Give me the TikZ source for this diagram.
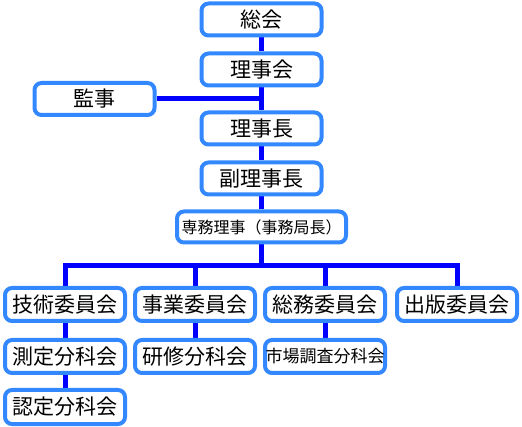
\documentclass[tikz,border=0pt]{standalone}
\usepackage{fontspec}
\setmainfont{Noto Sans CJK JP}
\usetikzlibrary{positioning,calc,backgrounds}
\definecolor{frame}{HTML}{3388FF}
\definecolor{wire}{HTML}{0000FF}

\begin{document}
\begin{tikzpicture}[
    x=1pt, y=1pt,
    node distance=14pt and 6pt,
    unit/.style={rectangle,draw=frame,fill=white,line width=4pt,rounded corners=7pt,
      minimum width=120pt,minimum height=32pt,inner sep=0pt,
      font=\fontsize{21}{21}\selectfont},
    small/.style={font=\fontsize{16}{16}\selectfont},
    link/.style={draw=wire,line width=5pt}
  ]
    \useasboundingbox (0,0) rectangle (522,-427);

    % main column
    \node[unit] (soukai)   at (261.5,-19.5)        {総会};
    \node[unit] (rijikai)  [below=of soukai]       {理事会};
    \node[unit] (rijicho)  [below=23pt of rijikai] {理事長};
    \node[unit] (fukuriji) [below=of rijicho]      {副理事長};
    \node[unit,small,minimum width=169pt,minimum height=31pt] (senmu)
      [below=13pt of fukuriji] {専務理事（事務局長）};
    \coordinate (mid) at ($(rijikai.south)!0.5!(rijicho.north)$);
    \node[unit] (kanji)    [left=105pt of mid]     {監事};

    % committees
    \node[unit,minimum height=33pt] (gijutsu) at (65,-304.5) {技術委員会};
    \node[unit,minimum height=33pt] (jigyo)   [right=of gijutsu]    {事業委員会};
    \node[unit,minimum height=33pt] (soumu)   [right=of jigyo]      {総務委員会};
    \node[unit,minimum height=33pt] (shuppan) [right=8pt of soumu]  {出版委員会};

    % subcommittees
    \node[unit,minimum height=33pt] (sokutei) [below=15pt of gijutsu] {測定分科会};
    \node[unit,minimum height=33pt] (kenshu)  [below=15pt of jigyo]   {研修分科会};
    \node[unit,minimum height=33pt,font=\fontsize{17}{17}\selectfont] (shijo)
      [below=15pt of soumu] {市場調査分科会};
    \node[unit,minimum height=34pt] (nintei)  [below=13pt of sokutei] {認定分科会};

    \begin{scope}[on background layer]
      \draw[link] (soukai) -- (rijikai) -- (rijicho) -- (fukuriji) -- (senmu);
      \draw[link] (kanji.east) -- ($(kanji.east -| rijikai.south)+(2.5,0)$);
      \draw[link] (senmu.south) -- ++(0,-21.5) coordinate (bus);
      \foreach \n in {gijutsu,jigyo,soumu,shuppan}
        \draw[link] (bus) -| (\n.north);
      \draw[link] (gijutsu) -- (sokutei) -- (nintei);
      \draw[link] (jigyo) -- (kenshu);
      \draw[link] (soumu) -- (shijo);
    \end{scope}
  \end{tikzpicture}
\end{document}
